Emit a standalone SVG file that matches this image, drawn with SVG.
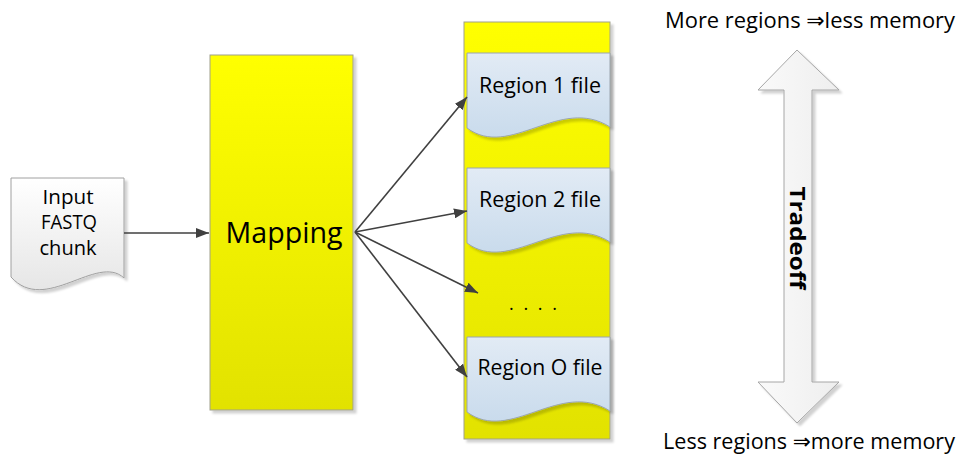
<svg xmlns="http://www.w3.org/2000/svg" width="961" height="455" viewBox="0 0 961 455">
<defs>
<linearGradient id="yel" x1="0" y1="0" x2="0" y2="1"><stop offset="0" stop-color="#ffff00"/><stop offset="1" stop-color="#e2e200"/></linearGradient>
<linearGradient id="blue" x1="0" y1="0" x2="0" y2="1"><stop offset="0" stop-color="#e2ebf5"/><stop offset="1" stop-color="#c9dbec"/></linearGradient>
<linearGradient id="paper" x1="0" y1="0" x2="0" y2="1"><stop offset="0" stop-color="#ffffff"/><stop offset="1" stop-color="#e6e6e6"/></linearGradient>
<linearGradient id="grey" x1="0" y1="0" x2="1" y2="0"><stop offset="0" stop-color="#fafafa"/><stop offset="1" stop-color="#eeeeee"/></linearGradient>
<filter id="sh" x="-10%" y="-10%" width="130%" height="130%"><feGaussianBlur in="SourceAlpha" stdDeviation="1.2"/><feOffset dx="3" dy="3" result="o"/><feFlood flood-color="#000" flood-opacity="0.18"/><feComposite in2="o" operator="in"/><feMerge><feMergeNode/><feMergeNode in="SourceGraphic"/></feMerge></filter>
<marker id="ah" viewBox="0 0 13 10" refX="13" refY="5" markerWidth="13" markerHeight="10" markerUnits="userSpaceOnUse" orient="auto"><path d="M0,0 L13,5 L0,10 Z" fill="#404040"/></marker>
<path id="regdoc" d="M0,0 H143 V74 C93,42 43,107 0,75 Z"/>
</defs>
<style>
text{font-family:"Open Sans","Noto Sans","DejaVu Sans",sans-serif;fill:#000}
.box{fill:url(#yel);stroke:#a0a08c;stroke-width:1}
.doc{fill:url(#blue);stroke:#9aa4ae;stroke-width:1}
.con{stroke:#404040;stroke-width:1.6;fill:none;marker-end:url(#ah)}
.lbl{font-size:21px;text-anchor:middle}
</style>

<g id="input">
<path d="M11,178 H124 V278 C97,253 45,315 11,277 Z" fill="url(#paper)" stroke="#a0a0a0" filter="url(#sh)"/>
<text x="68" y="204" font-size="20" text-anchor="middle" textLength="51" lengthAdjust="spacingAndGlyphs">Input</text>
<text x="69" y="229" font-size="20" text-anchor="middle" textLength="56" lengthAdjust="spacingAndGlyphs">FASTQ</text>
<text x="68" y="255" font-size="20" text-anchor="middle" textLength="57" lengthAdjust="spacingAndGlyphs">chunk</text>
</g>

<g id="mapping">
<rect x="210" y="55" width="143" height="355" class="box" filter="url(#sh)"/>
<text x="284" y="243" font-size="30" text-anchor="middle" textLength="117" lengthAdjust="spacingAndGlyphs">Mapping</text>
</g>

<g id="regions">
<rect x="464" y="22" width="146" height="417" class="box" filter="url(#sh)"/>
</g>

<g id="region1">
<use href="#regdoc" x="467" y="53" class="doc" filter="url(#sh)"/>
<text x="540" y="93" class="lbl" textLength="122" lengthAdjust="spacingAndGlyphs">Region 1 file</text>
</g>
<g id="region2">
<use href="#regdoc" x="467" y="168" class="doc" filter="url(#sh)"/>
<text x="540" y="207" class="lbl" textLength="122" lengthAdjust="spacingAndGlyphs">Region 2 file</text>
</g>
<g id="dots">
<text x="533" y="310" font-size="18" text-anchor="middle" textLength="48" lengthAdjust="spacing" fill="#404040">....</text>
</g>
<g id="regionO">
<use href="#regdoc" x="467" y="337" class="doc" filter="url(#sh)"/>
<text x="540" y="375" class="lbl" textLength="125" lengthAdjust="spacingAndGlyphs">Region O file</text>
</g>

<g id="connectors">
<line x1="124" y1="233" x2="209" y2="233" class="con"/>
<line x1="355" y1="232" x2="467" y2="97" class="con"/>
<line x1="355" y1="232" x2="467" y2="211" class="con"/>
<line x1="355" y1="232" x2="478" y2="293" class="con"/>
<line x1="355" y1="232" x2="467" y2="377" class="con"/>
</g>

<g id="tradeoff">
<polygon points="797,50 839,90 812,90 812,382 839,382 797,423 758,382 784,382 784,90 758,90" fill="url(#grey)" stroke="#a6a6a6" stroke-width="1" filter="url(#sh)"/>
<text transform="translate(790,238) rotate(90)" font-size="22" font-weight="bold" text-anchor="middle" textLength="103" lengthAdjust="spacingAndGlyphs">Tradeoff</text>
</g>

<g id="labels">
<text x="810" y="28" font-size="22" text-anchor="middle" textLength="290" lengthAdjust="spacingAndGlyphs">More regions ⇒less memory</text>
<text x="809" y="449" font-size="22" text-anchor="middle" textLength="292" lengthAdjust="spacingAndGlyphs">Less regions ⇒more memory</text>
</g>
</svg>
